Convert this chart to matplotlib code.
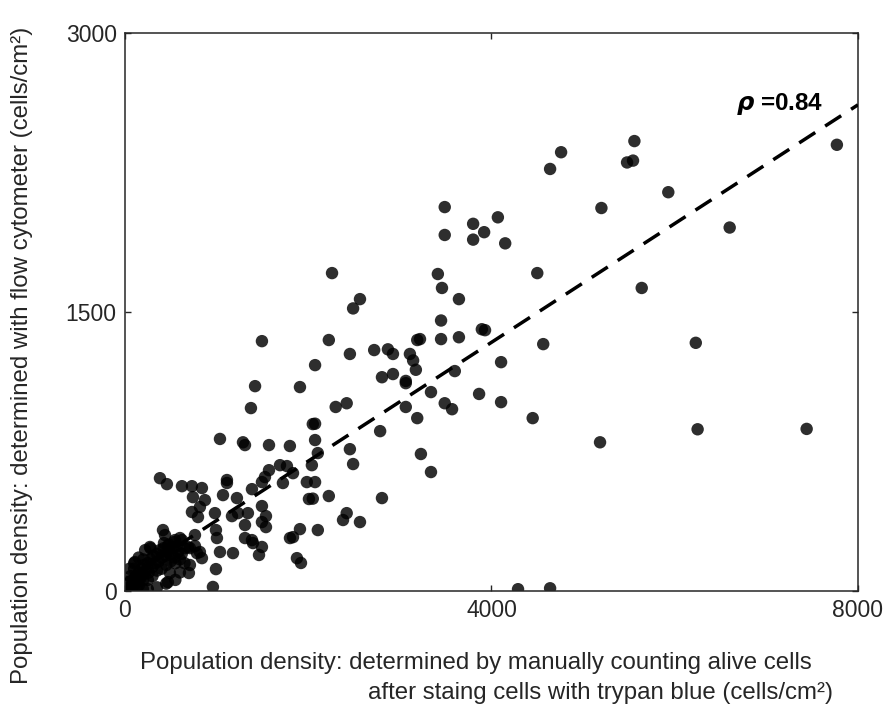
import matplotlib
matplotlib.use("Agg")
import matplotlib.pyplot as plt
import numpy as np

plt.rcParams['font.family'] = ['Liberation Sans', 'DejaVu Sans']

# manual count (x) vs flow cytometer (y), cells/cm2
x_manual = [
    7770, 5560, 5545, 5480, 4760, 4640, 5930, 5200, 6600, 5640, 6230, 5185, 6250, 7440, 4290, 4640,
    3490, 3490, 3800, 3920, 3800, 4070, 4150, 3415, 3460, 3645, 4500, 3450, 3450, 3645, 3895, 3930,
    3220, 4565, 2260, 2565, 2490, 2225, 3190, 2455, 2720, 2870, 2925, 3110, 3145, 3175, 2075, 1910,
    2805, 2925, 3065, 3065, 3600, 4105, 2300, 2420, 3340, 3065, 3190, 3490, 3570, 3865, 4105, 4450,
    2050, 2075, 2075, 2105, 2785, 2455, 2490, 2040, 1985, 2075, 3230, 3340, 2225, 2008, 2050, 2805,
    2420, 2380, 2565, 1910, 2105, 1495, 1420, 1375, 1037, 1288, 1310, 1572, 1800, 1692, 1768, 1834,
    1572, 1528, 1495, 1724, 1113, 1113, 1386, 1070, 1222, 622, 731, 840, 742, 873, 731, 818,
    797, 982, 1168, 1233, 1342, 1495, 1539, 1495, 1539, 1310, 993, 1004, 1310, 1386, 1397, 1495,
    1037, 1179, 1463, 1801, 1834, 600, 764, 687, 764, 1877, 382, 458, 993, 960, 1921, 415,
    273, 109, 437, 426, 535, 818, 840, 698, 622, 709, 786, 709, 491, 469, 196, 546, 469,
    0, 20, 40, 60, 30, 80, 90, 110, 120, 140, 150, 170, 180, 200, 210, 230, 250, 260, 280, 300,
    310, 330, 350, 370, 380, 400, 420, 440, 460, 480, 500, 520, 540, 560, 580, 620, 650, 100, 60, 200,
    300, 350, 150, 250, 450, 550, 130, 70, 200, 280, 400, 500, 600, 350, 450, 250, 550, 600, 650, 50,
    150, 220, 100,
]
y_flow = [
    2400, 2420, 2315, 2305, 2360, 2270, 2145, 2060, 1955, 1630, 1335, 800, 870, 872, 10, 15,
    2065, 1915, 1975, 1930, 1890, 2010, 1870, 1705, 1630, 1570, 1710, 1455, 1355, 1365, 1408, 1403,
    1355, 1328, 1710, 1570, 1520, 1350, 1350, 1275, 1296, 1300, 1275, 1275, 1240, 1190, 1215, 1097,
    1150, 1167, 1130, 1118, 1183, 1231, 990, 1010, 1070, 990, 930, 1010, 978, 1060, 1016, 930,
    898, 900, 812, 742, 860, 763, 683, 677, 586, 586, 737, 640, 511, 495, 497, 500,
    419, 382, 371, 333, 328, 1344, 1102, 984, 818, 800, 785, 785, 780, 677, 672, 634,
    650, 613, 586, 581, 597, 581, 548, 516, 500, 564, 564, 554, 505, 489, 425, 452,
    398, 419, 403, 419, 419, 457, 403, 371, 344, 355, 328, 285, 285, 274, 258, 237,
    210, 204, 194, 285, 290, 285, 301, 237, 242, 177, 607, 575, 118, 22, 151, 328,
    237, 156, 301, 258, 263, 210, 177, 97, 274, 231, 204, 140, 97, 48, 11, 274, 242,
    0, 15, 10, 30, 50, 20, 60, 40, 80, 50, 100, 70, 120, 90, 140, 110, 150, 100, 170, 130,
    190, 150, 200, 160, 220, 180, 230, 190, 210, 250, 200, 230, 180, 240, 210, 200, 230, 120, 80, 60,
    80, 110, 30, 60, 140, 150, 20, 5, 170, 230, 120, 160, 170, 20, 40, 10, 60, 100, 150, 120,
    180, 220, 150,
]

# regression line ends
fit_x = [0, 8000]
fit_y = [60, 2615]
rho_text = r'$\boldsymbol{\rho}$ =0.84'

fig = plt.figure(figsize=(8.9, 7.07), dpi=100)
ax = fig.add_axes([0.1404, 0.164, 0.8236, 0.789])

ax.scatter(x_manual, y_flow, s=80, color='black', alpha=0.82, edgecolors='none', zorder=2)
ax.plot(fit_x, fit_y, color='black', lw=2.5, dashes=(5.5, 3.4), zorder=3)

ax.set_xlim(0, 8000)
ax.set_ylim(0, 3000)
ax.set_xticks([0, 4000, 8000])
ax.set_yticks([0, 1500, 3000])
ax.tick_params(direction='in', length=4.5, width=1, top=True, right=True,
               labelsize=16.5, colors='#262626', pad=6)
for sp in ax.spines.values():
    sp.set_linewidth(1.1)
    sp.set_color('#262626')

ax.text(7620, 2620, rho_text, fontsize=17.5, fontweight='bold', ha='right', va='center')

fig.text(140 / 890, 1 - 663 / 707, 'Population density: determined by manually counting alive cells',
         fontsize=17.3, ha='left', va='center', color='#262626')
fig.text(600 / 890, 1 - 693 / 707, 'after staing cells with trypan blue (cells/cm\u00b2)',
         fontsize=17.3, ha='center', va='center', color='#262626')
fig.text(22 / 890, 1 - 355 / 707, 'Population density: determined with flow cytometer (cells/cm\u00b2)',
         fontsize=17.3, rotation=90, ha='center', va='center', color='#262626')

fig.savefig('out.png', dpi=100)
